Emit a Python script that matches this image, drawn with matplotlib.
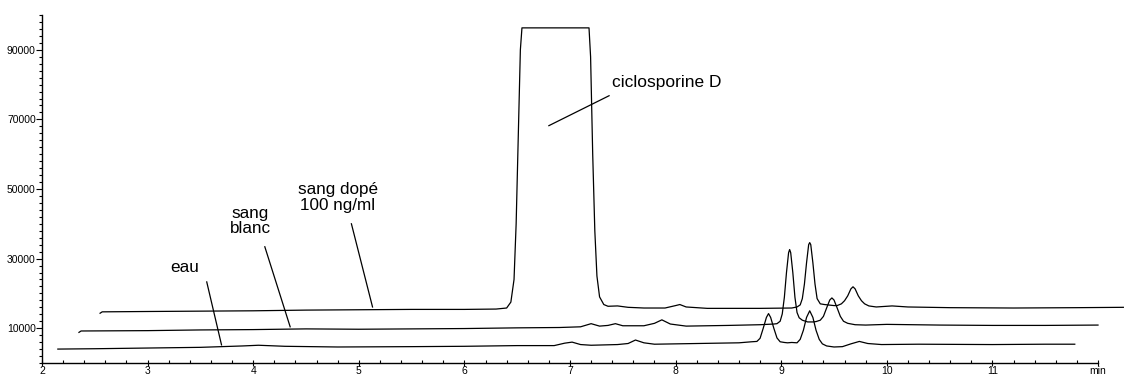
import matplotlib
matplotlib.use("Agg")
import matplotlib.pyplot as plt
from matplotlib.ticker import MultipleLocator, FixedLocator, FixedFormatter

plt.rcParams['font.family'] = ['Liberation Sans', 'DejaVu Sans']

# --- chromatogram traces: retention time (min) and detector response ---
eau_t = [2.15, 2.5, 3.0, 3.5, 3.9, 4.05, 4.3, 4.8, 5.5, 6.0, 6.5, 6.85, 6.95, 7.02,
         7.1, 7.2, 7.45, 7.55, 7.62, 7.7, 7.8, 8.2, 8.6, 8.72, 8.77, 8.80, 8.83,
         8.86, 8.88, 8.90, 8.93, 8.96, 8.99, 9.03, 9.06, 9.10, 9.15, 9.18, 9.21,
         9.24, 9.27, 9.30, 9.33, 9.36, 9.39, 9.43, 9.50, 9.58, 9.66, 9.74, 9.82,
         9.95, 10.3, 11.0, 11.5, 11.78]
eau_v = [4000, 4100, 4300, 4500, 4900, 5100, 4800, 4600, 4700, 4800, 5000, 5000,
         5700, 6000, 5300, 5100, 5300, 5600, 6600, 5800, 5400, 5600, 5800, 6100,
         6200, 7100, 10000, 13100, 14200, 13100, 10000, 7200, 6100, 5900, 5800,
         5900, 5800, 6800, 9400, 13100, 15000, 13100, 9400, 6800, 5500, 4900,
         4600, 4700, 5500, 6200, 5600, 5300, 5400, 5300, 5400, 5400]

blanc_t = [2.35, 2.37, 3.0, 3.5, 4.0, 4.5, 5.0, 5.5, 6.0, 6.5, 6.9, 7.1, 7.2,
           7.28, 7.36, 7.43, 7.5, 7.7, 7.8, 7.87, 7.95, 8.1, 8.5, 8.8, 8.93, 8.96,
           8.99, 9.01, 9.03, 9.05, 9.07, 9.08, 9.09, 9.11, 9.13, 9.15, 9.17, 9.20,
           9.25, 9.30, 9.33, 9.37, 9.40, 9.43, 9.46, 9.48, 9.50, 9.53, 9.56, 9.59,
           9.63, 9.70, 9.80, 10.0, 10.5, 11.0, 11.5, 12.0]
blanc_v = [8800, 9200, 9300, 9500, 9600, 9800, 9700, 9800, 9900, 10100, 10200,
           10400, 11300, 10600, 10800, 11300, 10700, 10700, 11400, 12400, 11200,
           10600, 10800, 11000, 11200, 11300, 12000, 14100, 18900, 26000, 31700,
           32600, 31700, 26000, 18900, 14500, 13000, 12300, 11800, 11800, 11900,
           12300, 13400, 15800, 18100, 18700, 18100, 15800, 13400, 12000, 11400,
           11000, 10900, 11100, 10900, 10800, 10800, 10900]

dope_t = [2.55, 2.57, 3.0, 3.5, 4.0, 4.5, 5.0, 5.5, 6.0, 6.3, 6.40, 6.44, 6.47,
          6.49, 6.51, 6.53, 6.545, 7.18, 7.195, 7.215, 7.235, 7.255, 7.28, 7.32,
          7.36, 7.45, 7.55, 7.7, 7.9, 8.0, 8.04, 8.1, 8.3, 8.8, 9.1, 9.15,
          9.18, 9.20, 9.22, 9.24, 9.26, 9.27, 9.28, 9.30, 9.32, 9.34, 9.37, 9.41,
          9.50, 9.53, 9.57, 9.60, 9.63, 9.66, 9.68, 9.70, 9.73, 9.76, 9.79, 9.83,
          9.90, 10.05, 10.2, 10.6, 11.2, 11.8, 12.24]
dope_v = [14300, 14700, 14800, 14900, 15000, 15200, 15300, 15400, 15400, 15500,
          15800, 17500, 24000, 40000, 65000, 90000, 96300, 96300, 88000, 60000,
          38000, 25000, 19000, 16800, 16300, 16400, 16000, 15800, 15800, 16500,
          16800, 16100, 15700, 15700, 15800, 16100, 16700, 18500,
          22700, 28800, 34000, 34600, 34000, 28800, 22700, 18500, 17000, 16800,
          16500, 16500, 17000, 17900, 19300, 21300, 21900, 21300, 19300, 17900,
          17000, 16400, 16100, 16400, 16100, 15900, 15800, 15900, 16000]

# --- axis ticks ---
x_ticks = [2, 3, 4, 5, 6, 7, 8, 9, 10, 11, 12]
x_tick_labels = ['2', '3', '4', '5', '6', '7', '8', '9', '10', '11', 'min']
y_ticks = [10000, 30000, 50000, 70000, 90000]
y_tick_labels = ['10000', '30000', '50000', '70000', '90000']

fig = plt.figure(figsize=(11.26, 3.76), dpi=100)
ax = fig.add_axes([42 / 1126, 13 / 376, 1056 / 1126, 348 / 376])

for t, v in ((eau_t, eau_v), (blanc_t, blanc_v), (dope_t, dope_v)):
    ax.plot(t, v, color='black', lw=0.9, clip_on=False, solid_joinstyle='round')

ax.set_xlim(2, 12)
ax.set_ylim(0, 100000)

for side in ('top', 'right'):
    ax.spines[side].set_visible(False)
for side in ('left', 'bottom'):
    ax.spines[side].set_linewidth(1.0)

ax.xaxis.set_major_locator(FixedLocator(x_ticks))
ax.xaxis.set_major_formatter(FixedFormatter(x_tick_labels))
ax.xaxis.set_minor_locator(MultipleLocator(0.2))
ax.tick_params(axis='x', which='major', direction='inout', length=5, width=0.8,
               pad=0, labelsize=7.5)
ax.tick_params(axis='x', which='minor', direction='in', length=2.5, width=0.8)

ax.yaxis.set_major_locator(FixedLocator(y_ticks))
ax.yaxis.set_major_formatter(FixedFormatter(y_tick_labels))
ax.yaxis.set_minor_locator(MultipleLocator(2000))
ax.tick_params(axis='y', which='major', direction='out', length=4, width=0.8,
               pad=0.5, labelsize=7.5)
ax.tick_params(axis='y', which='minor', direction='out', length=2, width=0.8)

# --- annotations ---
fs = 12.3
ax.text(3.35, 27400, 'eau', ha='center', va='center', fontsize=fs)
ax.text(3.97, 40800, 'sang\nblanc', ha='center', va='center', fontsize=fs,
        linespacing=1.05)
ax.text(4.80, 47500, 'sang dopé\n100 ng/ml', ha='center', va='center', fontsize=fs,
        linespacing=1.05)
ax.text(7.40, 80500, 'ciclosporine D', ha='left', va='center', fontsize=12.5)

pointers = [((3.56, 23300), (3.70, 5200)),
            ((4.11, 33400), (4.35, 10400)),
            ((4.93, 40000), (5.13, 16100)),
            ((7.37, 76800), (6.80, 68200))]
for (x0, y0), (x1, y1) in pointers:
    ax.plot([x0, x1], [y0, y1], color='black', lw=0.9)

fig.savefig('out.png', dpi=100)
